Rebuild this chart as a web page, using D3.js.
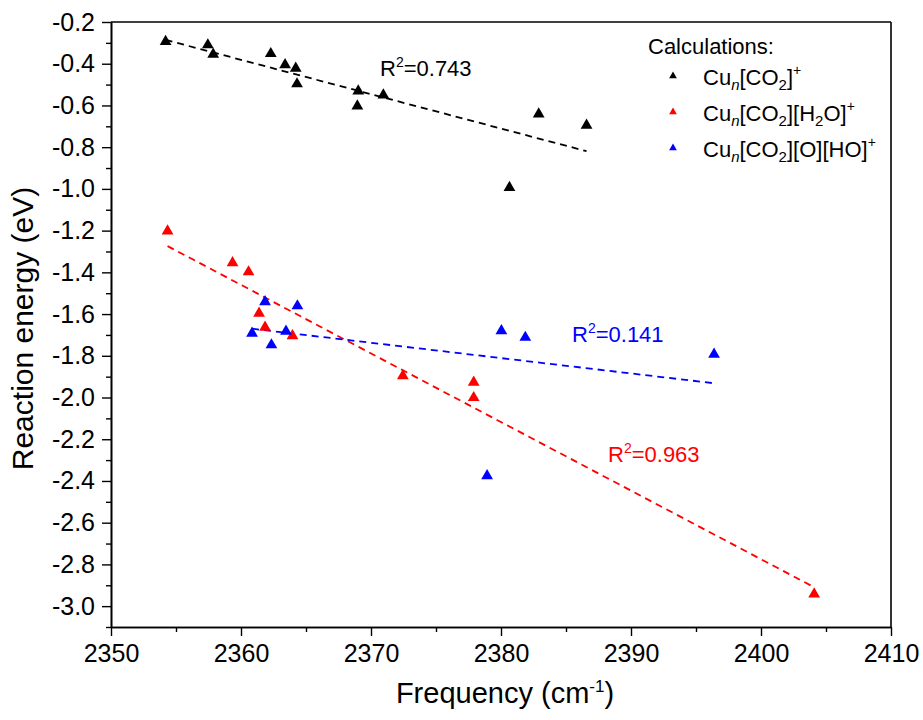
<!DOCTYPE html>
<html><head><meta charset="utf-8">
<script src="https://cdn.jsdelivr.net/npm/d3@7"></script>
<style>
body{margin:0;background:#fff}
svg{display:block}
text{font-family:"Liberation Sans",Arial,sans-serif;fill:#000}
</style>
</head><body>
<svg id="c" width="923" height="720"></svg>
<script>
// ---- data (frequency in cm^-1, reaction energy in eV) ----
const co2Freq = [2354.2, 2357.45, 2357.86, 2362.29, 2363.39, 2364.21, 2364.31, 2369.02, 2368.95, 2370.95, 2382.9, 2386.58, 2380.65];
const co2Energy = [-0.294, -0.310, -0.355, -0.352, -0.405, -0.422, -0.497, -0.531, -0.603, -0.550, -0.641, -0.695, -0.994];

const h2oFreq = [2354.35, 2359.35, 2360.58, 2361.39, 2361.85, 2363.96, 2372.45, 2377.9, 2377.9, 2404.09];
const h2oEnergy = [-1.202, -1.354, -1.398, -1.596, -1.664, -1.704, -1.896, -1.927, -2.001, -2.942];

const ohFreq = [2361.85, 2364.34, 2360.85, 2363.46, 2362.34, 2380.03, 2381.87, 2396.39, 2378.93];
const ohEnergy = [-1.541, -1.561, -1.692, -1.683, -1.748, -1.680, -1.712, -1.793, -2.375];

const seriesNames = ["co2", "h2o", "oh"];
const seriesColors = ["#000000", "#ff0000", "#0000ff"];
const r2Texts = ["0.743", "0.963", "0.141"];

const xTicks = [2350, 2360, 2370, 2380, 2390, 2400, 2410];
const xMinorTicks = [2355, 2365, 2375, 2385, 2395, 2405];
const yTicks = [-0.2, -0.4, -0.6, -0.8, -1.0, -1.2, -1.4, -1.6, -1.8, -2.0, -2.2, -2.4, -2.6, -2.8, -3.0];
const yTickLabels = ["-0.2", "-0.4", "-0.6", "-0.8", "-1.0", "-1.2", "-1.4", "-1.6", "-1.8", "-2.0", "-2.2", "-2.4", "-2.6", "-2.8", "-3.0"];
const yMinorTicks = [-0.3, -0.5, -0.7, -0.9, -1.1, -1.3, -1.5, -1.7, -1.9, -2.1, -2.3, -2.5, -2.7, -2.9, -3.1];

// ---- layout ----
const svg = d3.select("#c");
const L = 111, R = 891, T = 22, B = 627;
const x = d3.scaleLinear().domain([2350, 2410]).range([L, R]);
const y = d3.scaleLinear().domain([-3.1, -0.2]).range([B, T]);

// frame (top and right)
svg.append("line").attr("x1", L).attr("x2", R).attr("y1", T).attr("y2", T)
  .attr("stroke", "#000").attr("stroke-width", 1.6);
svg.append("line").attr("x1", R).attr("x2", R).attr("y1", T).attr("y2", B)
  .attr("stroke", "#000").attr("stroke-width", 1.6);

// axes
function styleAxis(g) {
  g.selectAll("path.domain").attr("stroke", "#000").attr("stroke-width", 1.6);
  g.selectAll(".tick line").attr("stroke", "#000").attr("stroke-width", 1.4);
  g.selectAll(".tick text").attr("fill", "#000").style("font-family", '"Liberation Sans",Arial,sans-serif');
}
const xAxis = svg.append("g").attr("transform", `translate(0,${B})`)
  .call(d3.axisBottom(x).tickValues(xTicks).tickSize(9).tickSizeOuter(0).tickPadding(8).tickFormat(d3.format("d")));
styleAxis(xAxis);
xAxis.selectAll(".tick text").style("font-size", "25px");
const xMinor = svg.append("g").attr("transform", `translate(0,${B})`)
  .call(d3.axisBottom(x).tickValues(xMinorTicks).tickSize(5).tickSizeOuter(0).tickFormat(""));
styleAxis(xMinor);

const yAxis = svg.append("g").attr("transform", `translate(${L},0)`)
  .call(d3.axisLeft(y).tickValues(yTicks).tickSize(9).tickSizeOuter(0).tickPadding(7)
    .tickFormat((d, i) => yTickLabels[i]));
styleAxis(yAxis);
yAxis.selectAll(".tick text").style("font-size", "25px");
const yMinor = svg.append("g").attr("transform", `translate(${L},0)`)
  .call(d3.axisLeft(y).tickValues(yMinorTicks).tickSize(5).tickSizeOuter(0).tickFormat(""));
styleAxis(yMinor);

// axis titles
const xt = svg.append("text").attr("x", (L + R) / 2 + 4).attr("y", 703)
  .attr("text-anchor", "middle").style("font-size", "29px");
xt.append("tspan").text("Frequency (cm");
xt.append("tspan").attr("dy", -11).style("font-size", "17px").text("-1");
xt.append("tspan").attr("dy", 11).text(")");

svg.append("text").attr("transform", `translate(33,${(T + B) / 2 + 4}) rotate(-90)`)
  .attr("text-anchor", "middle").style("font-size", "30px").text("Reaction energy (eV)");

// series
const allSeries = [
  { xs: co2Freq, ys: co2Energy },
  { xs: h2oFreq, ys: h2oEnergy },
  { xs: ohFreq, ys: ohEnergy }
];
const tri = d3.symbol().type(d3.symbolTriangle).size(60);

function linreg(xs, ys) {
  const mx = d3.mean(xs), my = d3.mean(ys);
  let sxy = 0, sxx = 0;
  xs.forEach((v, i) => { sxy += (v - mx) * (ys[i] - my); sxx += (v - mx) * (v - mx); });
  const b = sxy / sxx;
  return { a: my - b * mx, b };
}

allSeries.forEach((s, k) => {
  const fit = linreg(s.xs, s.ys);
  const [x0, x1] = d3.extent(s.xs);
  const pts = [[x0, fit.a + fit.b * x0], [x1, fit.a + fit.b * x1]];
  svg.append("path")
    .attr("d", d3.line().x(d => x(d[0])).y(d => y(d[1]))(pts))
    .attr("fill", "none").attr("stroke", seriesColors[k]).attr("stroke-width", 1.8)
    .attr("stroke-dasharray", "7,5");
});
allSeries.forEach((s, k) => {
  svg.append("g").selectAll("path").data(s.xs.map((v, i) => [v, s.ys[i]])).join("path")
    .attr("d", tri).attr("transform", d => `translate(${x(d[0])},${y(d[1])})`)
    .attr("fill", seriesColors[k]);
});

// R^2 annotations (black, red, blue)
const r2Pos = [[380, 76], [608, 462], [572, 342]];
r2Texts.forEach((t, k) => {
  const tx = svg.append("text").attr("x", r2Pos[k][0]).attr("y", r2Pos[k][1])
    .style("font-size", "22px").style("fill", seriesColors[k]);
  tx.append("tspan").text("R");
  tx.append("tspan").attr("dy", -9).style("font-size", "14px").text("2");
  tx.append("tspan").attr("dy", 9).text("=" + t);
});

// legend
svg.append("text").attr("x", 648).attr("y", 54).style("font-size", "22px").text("Calculations:");
const legendParts = [
  [["Cu", ""], ["n", "subi"], ["[CO", ""], ["2", "sub"], ["]", ""], ["+", "sup"]],
  [["Cu", ""], ["n", "subi"], ["[CO", ""], ["2", "sub"], ["][H", ""], ["2", "sub"], ["O]", ""], ["+", "sup"]],
  [["Cu", ""], ["n", "subi"], ["[CO", ""], ["2", "sub"], ["][O][HO]", ""], ["+", "sup"]]
];
const legTri = d3.symbol().type(d3.symbolTriangle).size(26);
legendParts.forEach((parts, k) => {
  const base = 85 + k * 36;
  svg.append("path").attr("d", legTri).attr("transform", `translate(673,${base - 9})`)
    .attr("fill", seriesColors[k]);
  const t = svg.append("text").attr("x", 703).attr("y", base).style("font-size", "22px");
  let shift = 0;
  parts.forEach(([str, kind]) => {
    let target = 0, size = "22px", italic = false;
    if (kind === "sub" || kind === "subi") { target = 5; size = "15px"; italic = kind === "subi"; }
    if (kind === "sup") { target = -10; size = "14px"; }
    const sp = t.append("tspan").attr("dy", target - shift).style("font-size", size).text(str);
    if (italic) sp.style("font-style", "italic");
    shift = target;
  });
});
</script>
</body></html>
